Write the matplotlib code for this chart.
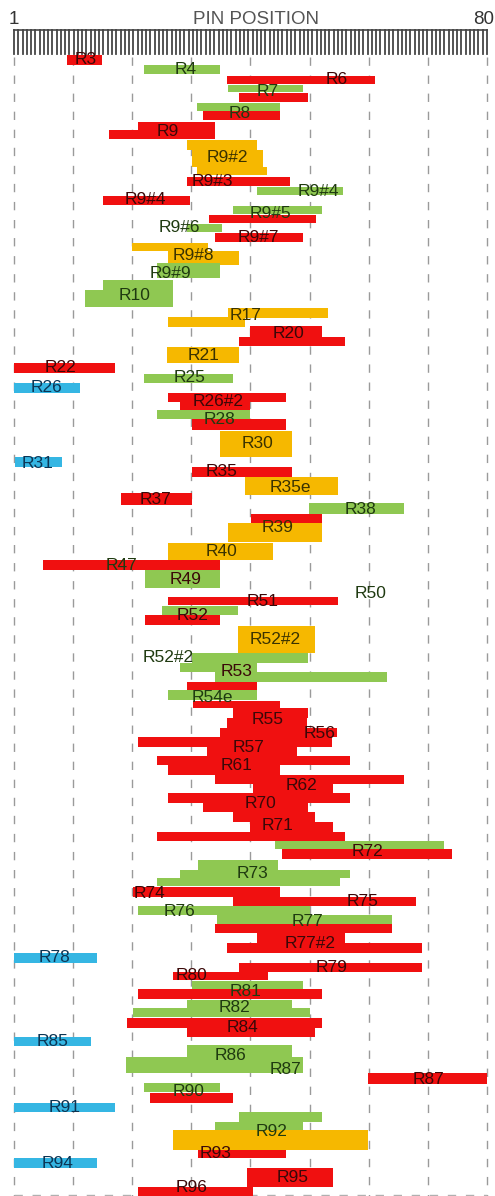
import numpy as np
import matplotlib
matplotlib.use("Agg")
import matplotlib.pyplot as plt

plt.rcParams['font.family'] = ['Liberation Sans', 'DejaVu Sans']

# bar data: start pin, end pin, top row, bottom row, colour code
bar_start = [9.9, 22.7, 36.6, 36.7, 38.6, 31.6, 32.6, 21.7, 16.9, 29.9, 30.7, 31.6,
             29.9, 41.6, 15.9, 37.6, 33.6, 29.9, 34.6, 20.7, 26.7, 24.9, 15.9, 12.9,
             36.7, 26.7, 40.4, 38.6, 26.6, 1.0, 22.7, 1.0, 26.7, 28.7, 24.9, 30.7,
             35.4, 1.2, 30.7, 39.6, 18.9, 50.3, 40.6, 36.7, 26.7, 5.8, 22.9, 26.7,
             25.7, 22.9, 38.4, 30.7, 28.7, 34.6, 29.9, 26.7,
             30.9, 37.6, 36.6, 35.4, 21.7, 33.2, 24.9, 26.7, 34.6, 40.9, 26.7, 32.6,
             37.6, 40.4, 24.9,
             44.6, 45.8, 31.7, 28.7, 24.9, 20.9, 37.6, 21.7, 34.9, 34.6, 41.6, 36.6,
             1.0, 38.6, 27.6, 30.7, 21.7, 29.9, 20.9, 19.9, 29.9, 1.0, 29.9, 19.7,
             60.1, 22.7, 23.7, 1.0, 38.6, 34.6, 27.6, 31.7, 1.0, 39.9, 21.7]
bar_end = [15.7, 35.4, 61.3, 49.3, 50.1, 45.4, 45.4, 34.6, 34.6, 41.6, 42.6, 43.3,
           47.1, 55.9, 30.4, 52.4, 51.4, 35.7, 49.3, 33.4, 38.6, 35.4, 27.6, 27.6,
           53.4, 39.6, 52.4, 56.3, 38.6, 17.9, 37.6, 12.0, 46.4, 40.4, 40.4, 46.4,
           47.4, 9.0, 47.4, 55.1, 30.7, 66.1, 52.4, 52.4, 44.3, 35.4, 35.4, 55.1,
           38.4, 35.4, 51.3, 50.1, 41.6, 63.3, 41.6, 41.6,
           45.4, 50.1, 49.9, 54.9, 54.1, 48.3, 57.1, 45.4, 66.1, 54.3, 57.1, 50.1,
           51.3, 54.3, 56.3,
           72.9, 74.2, 45.1, 57.1, 55.5, 45.4, 68.1, 50.4, 64.1, 64.1, 56.3, 69.1,
           14.9, 69.1, 43.4, 49.3, 52.4, 47.4, 50.4, 52.4, 51.3, 13.9, 47.4, 49.3,
           80.0, 35.4, 37.6, 17.9, 52.4, 49.3, 60.1, 46.4, 14.9, 54.3, 40.9]
bar_top = [55, 65, 76, 85, 93, 103, 111, 122, 130, 140, 150, 167,
           177, 187, 196, 206, 215, 224, 233, 243, 251, 263, 280, 290,
           308, 317, 326, 337, 347, 363, 374, 383, 393, 402, 410, 419,
           431, 457, 467, 477, 493, 503, 514, 523, 543, 560, 570, 597,
           606, 615, 626, 653, 663, 672, 682, 690,
           701, 708, 718, 728, 737, 747, 756, 765, 775, 784, 793, 803,
           812, 822, 832,
           841, 849, 860, 870, 878, 887, 897, 906, 915, 924, 933, 943,
           953, 963, 972, 981, 989, 1000, 1008, 1018, 1028, 1037, 1045, 1057,
           1073, 1083, 1093, 1103, 1112, 1122, 1130, 1150, 1158, 1168, 1187]
bar_bottom = [65, 74, 84, 92, 102, 111, 120, 130, 139, 150, 167, 175,
              186, 195, 205, 214, 223, 232, 242, 251, 265, 278, 290, 307,
              318, 327, 337, 346, 363, 373, 383, 393, 402, 410, 419, 430,
              457, 467, 477, 495, 505, 514, 523, 542, 560, 570, 588, 605,
              615, 625, 653, 663, 672, 682, 690, 700,
              708, 718, 728, 737, 747, 756, 765, 775, 784, 793, 803, 812,
              822, 832, 841,
              849, 859, 870, 878, 886, 897, 906, 915, 924, 933, 943, 953,
              963, 972, 980, 989, 999, 1008, 1017, 1028, 1037, 1046, 1057, 1073,
              1084, 1092, 1103, 1112, 1122, 1130, 1150, 1158, 1168, 1187, 1196]
bar_kind = list("rgrgrgrrrooo"
                "rgrgrgrooggg"
                "oorrorgbrrgr"
                "obrorgroorgr"
                "grogggrg"
                "rrrrrrrrrrrr"
                "rrr"
                "grgggrrggrrr"
                "brrgrggrrbgg"
                "rgrbggorbrr")

# labels: text, pin, row, colour code
label_text = ["R3", "R4", "R6", "R7", "R8", "R9", "R9#2", "R9#3", "R9#4", "R9#4",
              "R9#5", "R9#6", "R9#7", "R9#8", "R9#9", "R10", "R17", "R20", "R21",
              "R22", "R25", "R26", "R26#2", "R28", "R30", "R31", "R35", "R35e",
              "R37", "R38", "R39", "R40", "R47", "R49", "R50", "R51", "R52",
              "R52#2", "R52#2", "R53", "R54e", "R55", "R56", "R57", "R61", "R62",
              "R70", "R71", "R72", "R73", "R74", "R75", "R76", "R77", "R77#2",
              "R78", "R79", "R80", "R81", "R82", "R84", "R85", "R86", "R87",
              "R87", "R90", "R91", "R92", "R93", "R94", "R95", "R96"]
label_pin = [12.9, 29.6, 54.9, 43.3, 38.7, 26.6, 36.6, 34.1, 51.8, 22.9,
             43.8, 28.7, 41.8, 30.9, 27.1, 21.2, 39.6, 46.8, 32.6,
             8.7, 30.4, 6.5, 35.1, 35.4, 41.6, 5.0, 35.7, 47.1,
             24.7, 58.8, 45.1, 35.7, 19.0, 29.6, 60.5, 42.6, 30.9,
             44.6, 26.7, 38.2, 34.2, 43.4, 52.1, 40.1, 38.2, 49.1,
             42.1, 45.1, 60.0, 40.9, 23.7, 59.3, 28.7, 50.1, 50.4,
             7.8, 54.1, 30.7, 39.6, 37.9, 39.1, 7.5, 37.1, 46.3,
             70.2, 30.1, 9.5, 44.1, 34.6, 8.2, 47.6, 30.7]
label_row = [60, 69, 80, 91, 113, 131, 158, 181, 191, 200,
             214, 227, 237, 256, 274, 295, 316, 334, 355,
             368, 378, 388, 401, 420, 444, 463, 472, 487,
             500, 509, 528, 552, 565, 579, 593, 602, 616,
             640, 658, 672, 697, 719, 733, 748, 765, 786,
             804, 826, 851, 874, 893, 902, 911, 922, 943,
             958, 967, 976, 991, 1008, 1027, 1041, 1056, 1069,
             1079, 1092, 1108, 1132, 1153, 1163, 1177, 1187]
label_kind = list("rgrggrorgrgg" "rogg" "oro" "rgbrgobro"
                  "rgoogrgrr" "ogrgrrrrrr" "rrgrrggr" "brrggrbgg"
                  "rgbgrbrr")

fill = {'r': '#f01010', 'g': '#8fc852', 'o': '#f6b800', 'b': '#35b6e3'}
ink = {'r': '#3a0808', 'g': '#1f3a10', 'o': '#3a3200', 'b': '#0c3554'}

fig = plt.figure(figsize=(4.95, 11.96), dpi=100)
ax = fig.add_axes([0, 0, 1, 1])
px_per_pin = 473 / 79
ax.set_xlim(1 - 14 / px_per_pin, 1 + 481 / px_per_pin)
ax.set_ylim(1196, 0)
ax.axis('off')

# dashed grid
for g in np.linspace(1, 80, 9):
    ax.plot([g, g], [57, 1196], color='#9a9a9a', lw=1.0,
            dashes=(6, 7), zorder=1)
ax.plot([1, 80], [1194.5, 1194.5], color='#b0b0b0', lw=1.0, dashes=(6, 7), zorder=1)

# ruler
ax.plot([1, 80], [30, 30], color='#555555', lw=1.3, zorder=3)
for t in np.linspace(1, 80, 112):
    ax.plot([t, t], [30, 54], color='#454545', lw=1.3, zorder=3)
ax.text(1, 20, "1", ha='center', va='center', fontsize=13.5, color='#333333')
ax.text(81.2, 20, "80", ha='right', va='center', fontsize=13.5, color='#333333')
ax.text(41.5, 19, "PIN POSITION", ha='center', va='center', fontsize=13.5, color='#555555')

# bars
for s, e, t, b, k in zip(bar_start, bar_end, bar_top, bar_bottom, bar_kind):
    ax.barh((t + b) / 2, e - s, left=s, height=b - t, color=fill[k],
            edgecolor='none', zorder=2)

# labels
for txt, p, r, k in zip(label_text, label_pin, label_row, label_kind):
    ax.text(p, r, txt, ha='center', va='center', fontsize=12.5,
            color=ink[k], zorder=4)

fig.savefig("out.png", dpi=100)
